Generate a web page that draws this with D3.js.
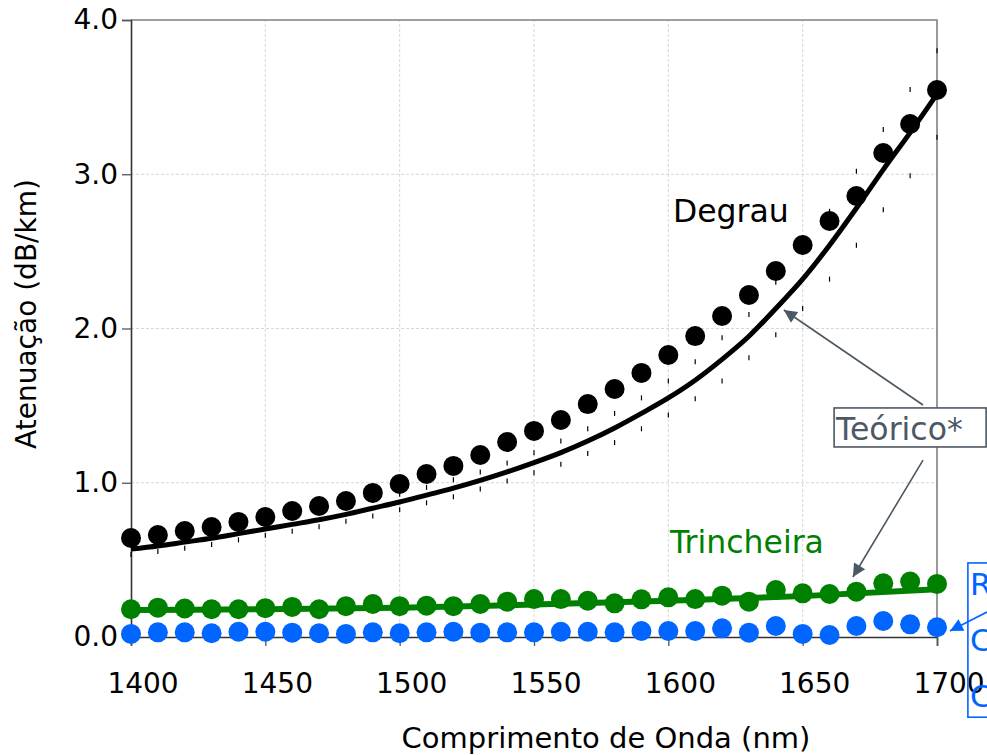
<!DOCTYPE html>
<html>
<head>
<meta charset="utf-8">
<script src="https://cdn.jsdelivr.net/npm/d3@7"></script>
<style>
  body { margin: 0; background: #fff; }
  text { font-family: "DejaVu Sans", sans-serif; }
</style>
</head>
<body>
<svg id="chart" width="987" height="755"></svg>
<script>
const wavelengths = [1400, 1410, 1420, 1430, 1440, 1450, 1460, 1470, 1480, 1490, 1500,
  1510, 1520, 1530, 1540, 1550, 1560, 1570, 1580, 1590, 1600,
  1610, 1620, 1630, 1640, 1650, 1660, 1670, 1680, 1690, 1700];

// medidas - fibra degrau
const degrau = [0.642, 0.661, 0.687, 0.713, 0.746, 0.778, 0.817, 0.849, 0.882, 0.934, 0.992,
  1.057, 1.109, 1.18, 1.264, 1.336, 1.407, 1.51, 1.608, 1.712, 1.828,
  1.951, 2.081, 2.217, 2.373, 2.541, 2.697, 2.859, 3.138, 3.326, 3.546];

// curva teorica (degrau) e sua incerteza
const teorico = [0.57, 0.59, 0.615, 0.64, 0.67, 0.70, 0.73, 0.76, 0.795, 0.835, 0.875,
  0.92, 0.965, 1.015, 1.07, 1.13, 1.195, 1.27, 1.355, 1.45, 1.55,
  1.665, 1.80, 1.95, 2.13, 2.32, 2.54, 2.78, 3.03, 3.27, 3.52];
const teoricoErr = [0.035, 0.035, 0.04, 0.04, 0.04, 0.04, 0.045, 0.045, 0.045, 0.05, 0.05,
  0.05, 0.055, 0.055, 0.058, 0.065, 0.075, 0.08, 0.094, 0.10, 0.11,
  0.12, 0.14, 0.14, 0.17, 0.19, 0.22, 0.24, 0.26, 0.28, 0.28];

// medidas - fibra trincheira
const trincheira = [0.18, 0.19, 0.185, 0.18, 0.18, 0.187, 0.195, 0.18, 0.20, 0.214, 0.20,
  0.203, 0.20, 0.214, 0.229, 0.246, 0.246, 0.235, 0.218, 0.244, 0.257,
  0.246, 0.268, 0.229, 0.305, 0.283, 0.279, 0.294, 0.348, 0.359, 0.344];
const trincheiraFitWl = [1400, 1450, 1500, 1550, 1600, 1650, 1700];
const trincheiraFit = [0.175, 0.18, 0.19, 0.21, 0.235, 0.265, 0.31];

// medidas - referencia
const referencia = [0.02, 0.03, 0.03, 0.024, 0.034, 0.034, 0.028, 0.024, 0.02, 0.03, 0.024,
  0.03, 0.034, 0.028, 0.03, 0.03, 0.034, 0.034, 0.03, 0.039, 0.039,
  0.039, 0.056, 0.028, 0.071, 0.02, 0.013, 0.071, 0.104, 0.082, 0.063];

const xTicks = [1400, 1450, 1500, 1550, 1600, 1650, 1700];
const yTicks = [0, 1, 2, 3, 4];
// only the first letter of each line shows inside the frame
const refLines = ["R", "C", "C"];

const width = 987;
const height = 755;
const margin = { top: 20, right: 50, bottom: 118, left: 131 };

const black = "#000000";
const green = "#008000";
const blue = "#0066ff";
const slate = "#4c5863";

const svg = d3.select("#chart");

const x = d3.scaleLinear()
  .domain([1400, 1700])
  .range([margin.left, width - margin.right]);

const y = d3.scaleLinear()
  .domain([0, 4])
  .range([height - margin.bottom, margin.top]);

// grid
svg.append("g")
  .selectAll("line")
  .data(xTicks.slice(1, -1))
  .join("line")
    .attr("x1", (d) => x(d)).attr("x2", (d) => x(d))
    .attr("y1", y(0)).attr("y2", y(4))
    .attr("stroke", "#cccccc")
    .attr("stroke-dasharray", "3,2")
    .attr("stroke-width", 0.8);

svg.append("g")
  .selectAll("line")
  .data(yTicks.slice(1, -1))
  .join("line")
    .attr("x1", x(1400)).attr("x2", x(1700))
    .attr("y1", (d) => y(d)).attr("y2", (d) => y(d))
    .attr("stroke", "#cccccc")
    .attr("stroke-dasharray", "3,2")
    .attr("stroke-width", 0.8);

// top & right spines (grey)
svg.append("path")
  .attr("d", `M${x(1400)},${y(4)}H${x(1700)}V${y(0)}`)
  .attr("fill", "none")
  .attr("stroke", "#808080")
  .attr("stroke-width", 1.6);

// axes
const xAxis = svg.append("g")
  .attr("transform", `translate(0,${y(0)})`)
  .call(d3.axisBottom(x).tickValues(xTicks).tickFormat(d3.format("d"))
    .tickSize(9).tickPadding(27));
xAxis.select(".domain").attr("stroke", "#333").attr("stroke-width", 1.6);
xAxis.selectAll(".tick line").attr("stroke", "#555").attr("stroke-width", 1.3);
xAxis.selectAll(".tick text")
  .attr("font-size", 28)
  .attr("font-family", "DejaVu Sans")
  .attr("dx", 11.5)
  .attr("fill", "#000");

const yAxis = svg.append("g")
  .attr("transform", `translate(${x(1400)},0)`)
  .call(d3.axisLeft(y).tickValues(yTicks).tickFormat(d3.format(".1f"))
    .tickSize(9).tickPadding(4));
yAxis.select(".domain").attr("stroke", "#333").attr("stroke-width", 1.6);
yAxis.selectAll(".tick line").attr("stroke", "#555").attr("stroke-width", 1.3);
yAxis.selectAll(".tick text")
  .attr("font-size", 28)
  .attr("font-family", "DejaVu Sans")
  .attr("fill", "#000");

// axis labels
svg.append("text")
  .attr("x", 606)
  .attr("y", 748)
  .attr("text-anchor", "middle")
  .attr("font-size", 29)
  .text("Comprimento de Onda (nm)");

svg.append("text")
  .attr("transform", `translate(36,314) rotate(-90)`)
  .attr("text-anchor", "middle")
  .attr("font-size", 28)
  .text("Atenuação (dB/km)");

// theoretical curve
const line = d3.line()
  .x((d) => x(d[0]))
  .y((d) => y(d[1]))
  .curve(d3.curveMonotoneX);

svg.append("path")
  .datum(wavelengths.map((w, i) => [w, teorico[i]]))
  .attr("d", line)
  .attr("fill", "none")
  .attr("stroke", black)
  .attr("stroke-width", 5);

// uncertainty caps around the theory
const caps = svg.append("g");
wavelengths.forEach((w, i) => {
  [teorico[i] - teoricoErr[i], teorico[i] + teoricoErr[i]].forEach((v) => {
    caps.append("line")
      .attr("x1", x(w)).attr("x2", x(w))
      .attr("y1", y(v) - 2.5).attr("y2", y(v) + 2.5)
      .attr("stroke", black)
      .attr("stroke-width", 1.2);
  });
});

// trincheira fit
svg.append("path")
  .datum(trincheiraFitWl.map((w, i) => [w, trincheiraFit[i]]))
  .attr("d", line)
  .attr("fill", "none")
  .attr("stroke", green)
  .attr("stroke-width", 6);

// points
function dots(values, color) {
  svg.append("g")
    .selectAll("circle")
    .data(wavelengths.map((w, i) => [w, values[i]]))
    .join("circle")
      .attr("cx", (d) => x(d[0]))
      .attr("cy", (d) => y(d[1]))
      .attr("r", 10)
      .attr("fill", color);
}
dots(degrau, black);
dots(trincheira, green);
dots(referencia, blue);

// arrow markers
const defs = svg.append("defs");
function arrowMarker(id, color) {
  defs.append("marker")
    .attr("id", id)
    .attr("viewBox", "0 0 10 10")
    .attr("refX", 10).attr("refY", 5)
    .attr("markerUnits", "userSpaceOnUse")
    .attr("markerWidth", 17).attr("markerHeight", 13)
    .attr("orient", "auto")
    .append("path")
      .attr("d", "M0,0L10,5L0,10z")
      .attr("fill", color);
}
arrowMarker("arrSlate", slate);
arrowMarker("arrBlue", blue);

// series labels
svg.append("text")
  .attr("x", x(1601.7))
  .attr("y", y(2.69))
  .attr("font-size", 31.5)
  .attr("fill", black)
  .text("Degrau");

svg.append("text")
  .attr("x", x(1600.6))
  .attr("y", y(0.545))
  .attr("font-size", 31.5)
  .attr("fill", green)
  .text("Trincheira");

// Teórico* annotation
svg.append("line")
  .attr("x1", x(1694.8)).attr("y1", y(1.504))
  .attr("x2", x(1643)).attr("y2", y(2.12))
  .attr("stroke", slate).attr("stroke-width", 1.6)
  .attr("marker-end", "url(#arrSlate)");
svg.append("line")
  .attr("x1", x(1694.8)).attr("y1", y(1.147))
  .attr("x2", x(1668.7)).attr("y2", y(0.389))
  .attr("stroke", slate).attr("stroke-width", 1.6)
  .attr("marker-end", "url(#arrSlate)");
svg.append("rect")
  .attr("x", x(1661.7)).attr("y", y(1.485))
  .attr("width", 152).attr("height", y(1.232) - y(1.485))
  .attr("fill", "#fff")
  .attr("stroke", slate).attr("stroke-width", 1.6);
svg.append("text")
  .attr("x", x(1661.7) + 2)
  .attr("y", y(1.485) + 32)
  .attr("font-size", 31.5)
  .attr("fill", slate)
  .text("Teórico*");

// referencia annotation (frame runs past the right edge)
svg.append("line")
  .attr("x1", x(1718.6)).attr("y1", y(0.162))
  .attr("x2", x(1704.8)).attr("y2", y(0.039))
  .attr("stroke", blue).attr("stroke-width", 1.6)
  .attr("marker-end", "url(#arrBlue)");
svg.append("rect")
  .attr("x", x(1711.5)).attr("y", y(0.48))
  .attr("width", 120).attr("height", y(-0.52) - y(0.48))
  .attr("fill", "none")
  .attr("stroke", blue).attr("stroke-width", 1.6);
svg.append("g")
  .selectAll("text")
  .data(refLines)
  .join("text")
    .attr("x", x(1711.5) + 2)
    .attr("y", (_, i) => y(0.48) + 32 + i * 56)
    .attr("font-size", 31)
    .attr("fill", blue)
    .text((d) => d);
</script>
</body>
</html>
